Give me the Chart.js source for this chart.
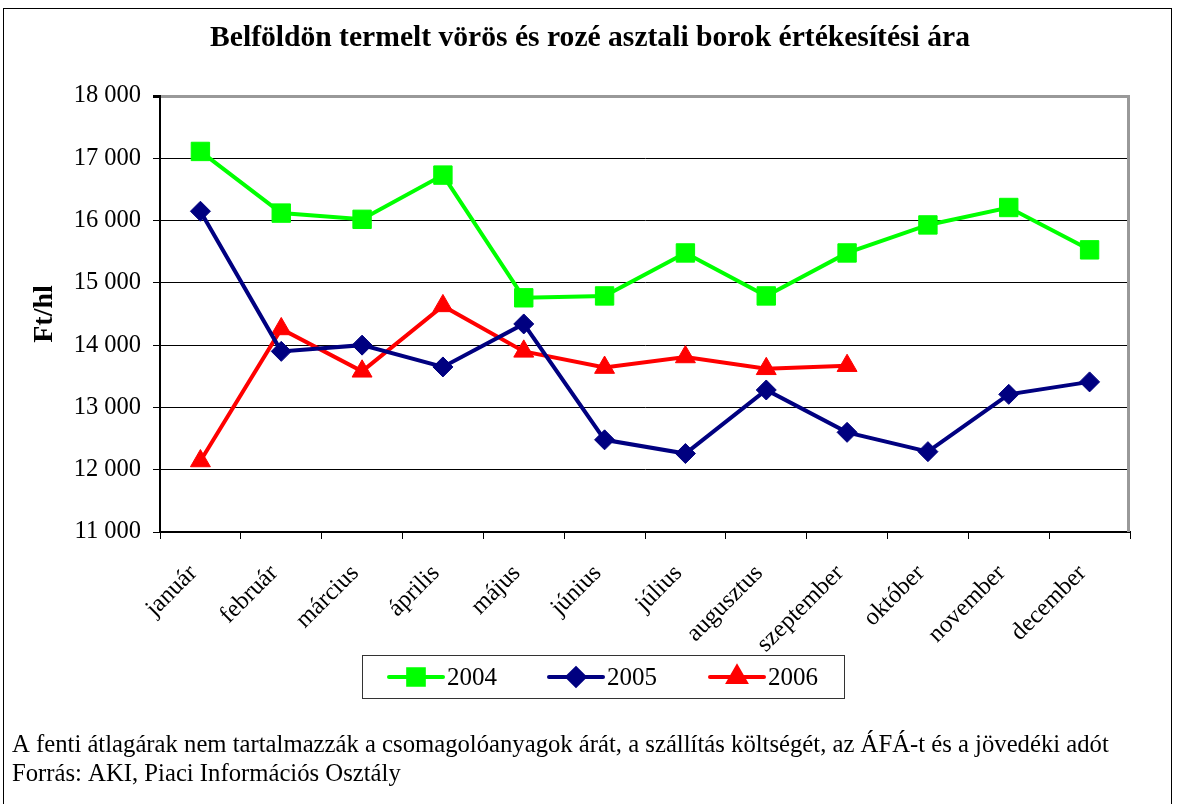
<!DOCTYPE html>
<html>
<head>
<meta charset="utf-8">
<title>Belföldön termelt vörös és rozé asztali borok értékesítési ára</title>
<script src="https://cdn.jsdelivr.net/npm/chart.js@4"></script>
<style>
  html, body { margin:0; padding:0; background:#fff; }
  #wrap { width:1177px; height:804px; position:relative; }
</style>
</head>
<body>
<div id="wrap"><canvas id="c" width="1177" height="804"></canvas></div>
<script>
// chart data
const titleText = 'Belföldön termelt vörös és rozé asztali borok értékesítési ára'
const yTitle = 'Ft/hl'
const months = ['január','február','március','április','május','június','július','augusztus','szeptember','október','november','december']
const years = ['2004','2005','2006']
const v2004 = [17110, 16120, 16020, 16730, 14760, 14790, 15480, 14790, 15480, 15930, 16210, 15530]
const v2005 = [16150, 13900, 14000, 13650, 14340, 12480, 12260, 13280, 12600, 12290, 13210, 13410]
const v2006 = [12140, 14260, 13580, 14630, 13900, 13640, 13810, 13620, 13670, null, null, null]
const yTicks = [11000, 12000, 13000, 14000, 15000, 16000, 17000, 18000]
const footLines = [
  'A fenti átlagárak nem tartalmazzák a csomagolóanyagok árát, a szállítás költségét, az ÁFÁ-t és a jövedéki adót',
  'Forrás: AKI, Piaci Információs Osztály'
]

const SERIF = '"Liberation Serif", "Times New Roman", serif'
const fmt = v => String(v).replace(/\B(?=(\d{3})+(?!\d))/g, ' ')

function ds(label, data, color, style, r){
  return { label, data, borderColor:color, backgroundColor:color, borderWidth:4,
    pointStyle:style, pointRadius:r, pointHoverRadius:r, pointBorderWidth:1,
    pointBorderColor:color, pointBackgroundColor:color, tension:0, spanGaps:false }
}

// frame, title, plot border, legend box and footnotes
const extras = {
  id:'extras',
  beforeDraw(chart){
    const ctx = chart.ctx
    ctx.save()
    ctx.fillStyle = '#fff'; ctx.fillRect(0,0,chart.width,chart.height)
    ctx.strokeStyle = '#000'; ctx.lineWidth = 1
    ctx.strokeRect(3.5, 8.5, 1168, 900)
    ctx.restore()
  },
  afterDraw(chart){
    const ctx = chart.ctx, a = chart.chartArea
    ctx.save()
    // gray right border of plot
    ctx.strokeStyle = '#999'; ctx.lineWidth = 3
    ctx.beginPath(); ctx.moveTo(a.right-1.5, a.top-1); ctx.lineTo(a.right-1.5, a.bottom); ctx.stroke()
    // title
    ctx.fillStyle = '#000'; ctx.textAlign = 'center'; ctx.textBaseline = 'middle'
    ctx.font = 'bold 29.6px ' + SERIF
    ctx.fillText(titleText, 590, 38)
    // legend
    ctx.strokeStyle = '#333'; ctx.lineWidth = 1
    ctx.strokeRect(362.5, 655.5, 482, 43)
    const xs = [389, 549, 710]
    chart.data.datasets.forEach((d, i) => {
      const x0 = xs[i], y = 677
      ctx.strokeStyle = d.borderColor; ctx.lineWidth = 4; ctx.lineCap = 'round'
      ctx.beginPath(); ctx.moveTo(x0, y); ctx.lineTo(x0+54, y); ctx.stroke()
      ctx.fillStyle = d.borderColor
      Chart.helpers.drawPoint(ctx, { pointStyle:d.pointStyle, radius:d.pointRadius*0.85, rotation:0, borderWidth:1 }, x0+27, y)
      ctx.fill()
      ctx.fillStyle = '#000'; ctx.textAlign = 'left'; ctx.textBaseline = 'middle'
      ctx.font = '25px ' + SERIF
      ctx.fillText(d.label, x0+58, y+1)
    })
    // footnotes
    ctx.font = '24.7px ' + SERIF
    ctx.fillText(footLines[0], 12, 746)
    ctx.fillText(footLines[1], 12, 775)
    ctx.restore()
  }
}

new Chart(document.getElementById('c'), {
  type:'line',
  data:{
    labels: months,
    datasets:[
      ds(years[0], v2004, '#00ff00', 'rect', 13),
      ds(years[1], v2005, '#000080', 'rectRot', 10),
      ds(years[2], v2006, '#ff0000', 'triangle', 11.5)
    ]
  },
  options:{
    responsive:false,
    animation:false,
    layout:{ padding:{ top:96, right:47, left:0, bottom:0 } },
    plugins:{ legend:{ display:false }, title:{ display:false }, tooltip:{ enabled:false } },
    scales:{
      x:{
        offset:true,
        afterFit(s){ s.height = 272 },
        grid:{ offset:true, drawOnChartArea:false, color:'#000', tickLength:7 },
        border:{ color:'#000', width:2 },
        ticks:{ color:'#000', font:{ family:SERIF, size:24.5 }, minRotation:45, maxRotation:45, padding:20, labelOffset:-7, autoSkip:false }
      },
      y:{
        min:11000, max:18000,
        afterFit(s){ s.width = 160 },
        afterBuildTicks(s){ s.ticks = yTicks.map(v => ({ value:v })) },
        grid:{
          color: c => c.tick && c.tick.value === 18000 ? '#999' : '#000',
          lineWidth: c => c.tick && c.tick.value === 18000 ? 3 : 1,
          tickColor:'#000', tickLength:7
        },
        border:{ color:'#000', width:2 },
        ticks:{ color:'#000', font:{ family:SERIF, size:24.5 }, padding:12, callback:v => fmt(v) },
        title:{ display:true, text:yTitle, color:'#000', font:{ family:SERIF, size:28, weight:'bold' }, padding:{ top:28 } }
      }
    }
  },
  plugins:[extras]
})
</script>
</body>
</html>
